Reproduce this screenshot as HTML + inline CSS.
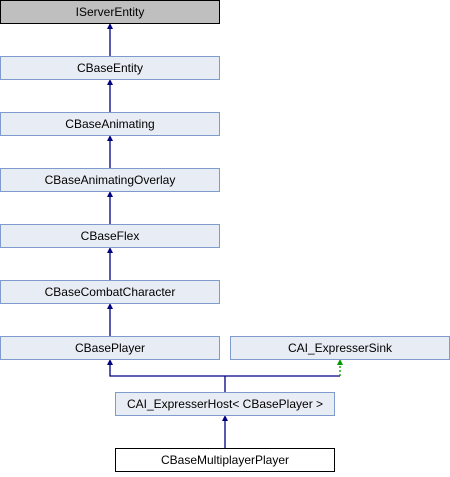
<!DOCTYPE html>
<html><head><style>
body{margin:0;background:#fff;width:450px;height:472px;overflow:hidden}
svg text{font-family:"Liberation Sans",Arial,sans-serif;font-size:12px;text-anchor:middle}
</style></head><body>
<svg width="450" height="472" viewBox="0 0 450 472">
<defs>
<marker id="a" markerWidth="6" markerHeight="6" refX="3" refY="0" orient="auto" markerUnits="userSpaceOnUse" viewBox="-3 0 6 6"></marker>
</defs>
<g fill="none" stroke="#000080" stroke-width="1.3">
<line x1="110" y1="28" x2="110" y2="56"/>
<line x1="110" y1="84" x2="110" y2="112"/>
<line x1="110" y1="140" x2="110" y2="168"/>
<line x1="110" y1="196" x2="110" y2="224"/>
<line x1="110" y1="252" x2="110" y2="280"/>
<line x1="110" y1="308" x2="110" y2="336"/>
<polyline points="110,364 110,376 340,376"/>
<line x1="225" y1="376" x2="225" y2="392"/>
<line x1="225" y1="420" x2="225" y2="448"/>
</g>
<line x1="340" y1="376" x2="340" y2="364" stroke="#009900" stroke-width="1.3" stroke-dasharray="2,2"/>
<g fill="#000080">
<polygon points="110,23 107,29 113,29"/>
<polygon points="110,79 107,85 113,85"/>
<polygon points="110,135 107,141 113,141"/>
<polygon points="110,191 107,197 113,197"/>
<polygon points="110,247 107,253 113,253"/>
<polygon points="110,303 107,309 113,309"/>
<polygon points="110,359 107,365 113,365"/>
<polygon points="225,415 222,421 228,421"/>
</g>
<polygon points="340,359 337,365 343,365" fill="#009900"/>
<rect x="0.5" y="0.5" width="219" height="23" fill="#bfbfbf" stroke="#000"/>
<text x="110" y="16">IServerEntity</text>
<g fill="#e8ecf4" stroke="#7f9acc">
<rect x="0.5" y="56.5" width="219" height="23"/>
<rect x="0.5" y="112.5" width="219" height="23"/>
<rect x="0.5" y="168.5" width="219" height="23"/>
<rect x="0.5" y="224.5" width="219" height="23"/>
<rect x="0.5" y="280.5" width="219" height="23"/>
<rect x="0.5" y="336.5" width="219" height="23"/>
<rect x="230.5" y="336.5" width="219" height="23"/>
<rect x="115.5" y="392.5" width="219" height="23"/>
</g>
<rect x="115.5" y="448.5" width="219" height="23" fill="#fff" stroke="#000"/>
<text x="110" y="72">CBaseEntity</text>
<text x="110" y="128">CBaseAnimating</text>
<text x="110" y="184">CBaseAnimatingOverlay</text>
<text x="110" y="240">CBaseFlex</text>
<text x="110" y="296">CBaseCombatCharacter</text>
<text x="110" y="352">CBasePlayer</text>
<text x="340" y="352">CAI_ExpresserSink</text>
<text x="225" y="408">CAI_ExpresserHost&lt; CBasePlayer &gt;</text>
<text x="225" y="464">CBaseMultiplayerPlayer</text>
</svg>
</body></html>
